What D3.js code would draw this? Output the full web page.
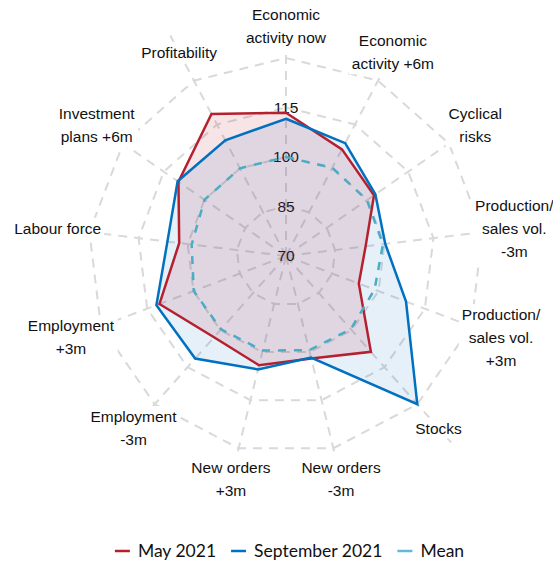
<!DOCTYPE html>
<html>
<head>
<meta charset="utf-8">
<script src="https://cdn.jsdelivr.net/npm/d3@7/dist/d3.min.js"></script>
<style>
  html, body { margin: 0; padding: 0; background: #fff; }
  svg { display: block; }
</style>
</head>
<body>
<script>
// Survey indicators, clockwise from the top
const categories = [
  "Economic\nactivity now",
  "Economic\nactivity +6m",
  "Cyclical\nrisks",
  "Production/\nsales vol.\n-3m",
  "Production/\nsales vol.\n+3m",
  "Stocks",
  "New orders\n-3m",
  "New orders\n+3m",
  "Employment\n-3m",
  "Employment\n+3m",
  "Labour force",
  "Investment\nplans +6m",
  "Profitability"
];
const may2021 = [113.4, 106.5, 102.4, 94.3, 93.6, 108.8, 102.0, 104.1, 102.9, 111.0, 102.6, 109.6, 118.6];
const sep2021 = [111.6, 108.6, 102.9, 100.3, 108.9, 130.0, 101.7, 105.4, 111.5, 112.0, 106.2, 109.9, 109.6];
const meanValues = [100.0, 100.2, 99.8, 99.6, 98.7, 99.6, 99.4, 99.5, 99.7, 99.9, 98.8, 100.0, 100.0];
const tickValues = [70, 85, 100, 115];
const gridValues = [85, 100, 115, 130];

const seriesNames = ["May 2021", "September 2021", "Mean"];

const W = 553, H = 562;
const cx = 286, cy = 256;

const svg = d3.select("body").append("svg")
  .attr("width", W).attr("height", H);

const r = d3.scaleLinear().domain([70, 130]).range([0, 198]);
const n = categories.length;
const angle = d3.scaleLinear().domain([0, n]).range([0, 2 * Math.PI]);

const g = svg.append("g").attr("transform", `translate(${cx},${cy})`);

const gridColor = "#d9d9d9";

// concentric polygon grid
const ringLine = d3.lineRadial()
  .angle((d, i) => angle(i))
  .radius(d => r(d))
  .curve(d3.curveLinearClosed);

g.append("g").selectAll("path")
  .data(gridValues)
  .join("path")
  .attr("d", v => ringLine(d3.range(n).map(() => v)))
  .attr("fill", "none")
  .attr("stroke", gridColor)
  .attr("stroke-width", 2)
  .attr("stroke-dasharray", "9,7");

// spokes
g.append("g").selectAll("line")
  .data(d3.range(n))
  .join("line")
  .attr("x1", 0).attr("y1", 0)
  .attr("x2", i => r(147.5) * Math.sin(angle(i)))
  .attr("y2", i => -r(147.5) * Math.cos(angle(i)))
  .attr("stroke", gridColor)
  .attr("stroke-width", 2)
  .attr("stroke-dasharray", "9,7");

// axis labels on a white backing
const labelR = 230, lineH = 23;
const labels = g.append("g").selectAll("g")
  .data(categories)
  .join("g")
  .attr("transform", (d, i) => `translate(${labelR * Math.sin(angle(i))},${-labelR * Math.cos(angle(i))})`);

labels.each(function (d) {
  const lines = d.split("\n");
  const grp = d3.select(this);
  const t = grp.append("text")
    .attr("text-anchor", "middle")
    .attr("font-family", "'Liberation Sans', Arial, sans-serif")
    .attr("font-size", 15.5)
    .attr("fill", "#111");
  lines.forEach((ln, k) => {
    t.append("tspan")
      .attr("x", 0)
      .attr("y", (k - (lines.length - 1) / 2) * lineH)
      .attr("dy", "0.35em")
      .text(ln);
  });
  const bb = t.node().getBBox();
  grp.insert("rect", "text")
    .attr("x", bb.x - 3).attr("y", bb.y - 2)
    .attr("width", bb.width + 6).attr("height", bb.height + 4)
    .attr("fill", "#fff");
});

// radial tick labels along the top spoke
g.append("g").selectAll("text")
  .data(tickValues)
  .join("text")
  .attr("x", 0)
  .attr("y", v => -r(v))
  .attr("dy", "0.35em")
  .attr("text-anchor", "middle")
  .attr("font-family", "'Liberation Sans', Arial, sans-serif")
  .attr("font-size", 15.5)
  .attr("fill", "#111")
  .text(v => v);

const areaLine = d3.lineRadial()
  .angle((d, i) => angle(i))
  .radius(d => r(d))
  .curve(d3.curveLinearClosed);

const colors = { may: "#b5202f", sep: "#0070c0", mean: "#4bacc6" };

// filled areas
g.append("path").attr("d", areaLine(sep2021))
  .attr("fill", colors.sep).attr("fill-opacity", 0.1).attr("stroke", "none");
g.append("path").attr("d", areaLine(may2021))
  .attr("fill", "#c0203a").attr("fill-opacity", 0.12).attr("stroke", "none");

// outlines
g.append("path").attr("d", areaLine(may2021))
  .attr("fill", "none").attr("stroke", colors.may).attr("stroke-width", 2.5)
  .attr("stroke-linejoin", "miter");
g.append("path").attr("d", areaLine(sep2021))
  .attr("fill", "none").attr("stroke", colors.sep).attr("stroke-width", 2.5)
  .attr("stroke-linejoin", "miter");
g.append("path").attr("d", areaLine(meanValues))
  .attr("fill", "none").attr("stroke", colors.mean).attr("stroke-width", 2.5)
  .attr("stroke-dasharray", "8,8");

// legend
const legendItems = [
  { name: seriesNames[0], color: colors.may },
  { name: seriesNames[1], color: colors.sep },
  { name: seriesNames[2], color: "#5bbcd3" }
];
const legend = svg.append("g");
const ly = 551;
let x = 0;
legendItems.forEach((it, i) => {
  const item = legend.append("g").attr("transform", `translate(${x},0)`);
  item.append("line")
    .attr("x1", 0).attr("x2", 15).attr("y1", ly).attr("y2", ly)
    .attr("stroke", it.color).attr("stroke-width", 2.5);
  const t = item.append("text")
    .attr("x", 23).attr("y", ly).attr("dy", "0.35em")
    .attr("font-family", "Lato, 'Liberation Sans', sans-serif")
    .attr("font-size", 17.5)
    .attr("fill", "#111")
    .text(it.name);
  x += 23 + t.node().getComputedTextLength() + 15;
});
const legendW = x - 15;
legend.attr("transform", `translate(${289.5 - legendW / 2},0)`);
</script>
</body>
</html>
